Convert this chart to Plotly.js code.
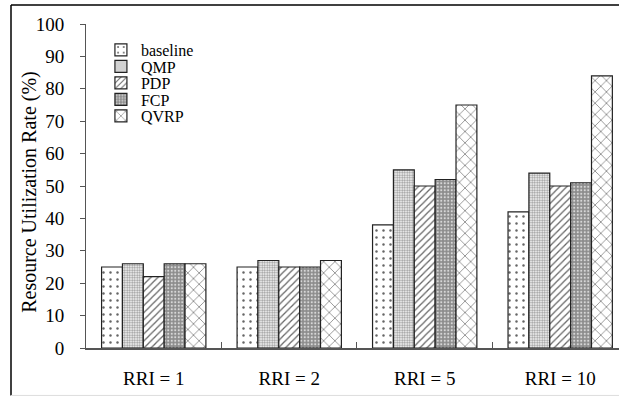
<!DOCTYPE html>
<html>
<head>
<meta charset="utf-8">
<script src="https://cdn.plot.ly/plotly-3.0.1.min.js"></script>
<style>html,body{margin:0;padding:0;background:#fff;}#chart{width:619px;height:398px;}</style>
</head>
<body>
<div id="chart"></div>
<script>
var categories = ["RRI = 1", "RRI = 2", "RRI = 5", "RRI = 10"];
var seriesNames = ["baseline", "QMP", "PDP", "FCP", "QVRP"];
var baseline = [25, 25, 38, 42];
var qmp = [26, 27, 55, 54];
var pdp = [22, 25, 50, 50];
var fcp = [26, 25, 52, 51];
var qvrp = [26, 27, 75, 84];
var yTicks = [0, 10, 20, 30, 40, 50, 60, 70, 80, 90, 100];
var yTitle = "Resource Utilization Rate (%)";

var seriesValues = [baseline, qmp, pdp, fcp, qvrp];
var patterns = [
  {shape: ".", bgcolor: "#ffffff", fgcolor: "#666666", size: 7, solidity: 0.1},
  {shape: ".", bgcolor: "#ffffff", fgcolor: "#999999", size: 2.5, solidity: 0.5},
  {shape: "/", bgcolor: "#ffffff", fgcolor: "#666666", size: 5, solidity: 0.25},
  {shape: ".", bgcolor: "#8c8c8c", fgcolor: "#d8d8d8", size: 3.5, solidity: 0.3},
  {shape: "x", bgcolor: "#ffffff", fgcolor: "#333333", size: 8, solidity: 0.12}
];

var FAM = "Liberation Serif";
var legendY = [0.920, 0.869, 0.818, 0.767, 0.716];

var traces = seriesNames.map(function(n, i) {
  return {
    type: "bar",
    name: n,
    x: categories,
    y: seriesValues[i],
    legend: i === 0 ? "legend" : "legend" + (i + 1),
    marker: {
      color: patterns[i].bgcolor,
      line: {color: "#222222", width: 1.2},
      pattern: {
        shape: patterns[i].shape,
        bgcolor: patterns[i].bgcolor,
        fgcolor: patterns[i].fgcolor,
        size: patterns[i].size,
        solidity: patterns[i].solidity,
        fillmode: "replace"
      }
    }
  };
});

var layout = {
  width: 619,
  height: 398,
  margin: {l: 86, r: 0, t: 24, b: 49.5, pad: 0},
  paper_bgcolor: "#ffffff",
  plot_bgcolor: "#ffffff",
  barmode: "group",
  bargap: 0.23,
  bargroupgap: 0,
  showlegend: true,
  xaxis: {
    type: "category",
    range: [-0.5, 3.434],
    showline: true, linecolor: "#555", linewidth: 1.5,
    ticks: "inside", tickson: "boundaries", ticklen: 6, tickcolor: "#555",
    showgrid: false, zeroline: false,
    ticklabelstandoff: 13,
    tickfont: {family: FAM, size: 19, color: "#000"},
    fixedrange: true
  },
  yaxis: {
    range: [0, 100],
    tickvals: yTicks,
    showline: true, linecolor: "#555", linewidth: 1,
    ticks: "outside", ticklen: 5, tickcolor: "#555",
    showgrid: false, zeroline: false,
    ticklabelstandoff: 12,
    tickfont: {family: FAM, size: 19, color: "#000"},
    fixedrange: true
  },
  annotations: [
    {text: yTitle, xref: "paper", yref: "paper", x: (30 - 86) / 533, y: 0.482,
     xanchor: "center", yanchor: "middle", textangle: -90, showarrow: false,
     font: {family: FAM, size: 20, color: "#000"}}
  ],
  shapes: [
    {type: "line", xref: "paper", yref: "paper", x0: (11 - 86) / 533, x1: 1.02, y0: (398 - 5 - 49.5) / 324.5, y1: (398 - 5 - 49.5) / 324.5, line: {color: "#000", width: 1.5}},
    {type: "line", xref: "paper", yref: "paper", x0: (11 - 86) / 533, x1: (11 - 86) / 533, y0: (398 - 5 - 49.5) / 324.5, y1: (398 - 396 - 49.5) / 324.5, line: {color: "#000", width: 1.5}},
    {type: "line", xref: "paper", yref: "paper", x0: (11 - 86) / 533, x1: 1.02, y0: (398 - 396 - 49.5) / 324.5, y1: (398 - 396 - 49.5) / 324.5, line: {color: "#dddddd", width: 1}}
  ]
};

for (var i = 0; i < seriesNames.length; i++) {
  var key = i === 0 ? "legend" : "legend" + (i + 1);
  layout[key] = {
    x: 0.028, y: legendY[i], xanchor: "left", yanchor: "middle",
    font: {family: FAM, size: 16, color: "#000"},
    bgcolor: "rgba(0,0,0,0)",
    itemwidth: 30
  };
}

Plotly.newPlot("chart", traces, layout, {displayModeBar: false, staticPlot: true});
</script>
</body>
</html>
